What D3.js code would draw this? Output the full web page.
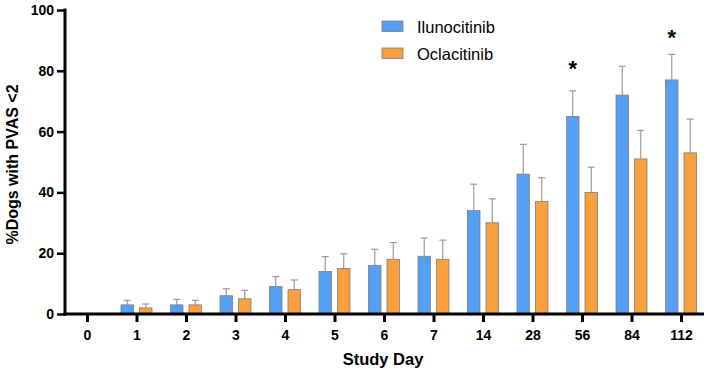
<!DOCTYPE html>
<html>
<head>
<meta charset="utf-8">
<script src="https://cdn.jsdelivr.net/npm/d3@7"></script>
<style>
  body { margin: 0; background: #fff; }
  svg { display: block; font-family: "Liberation Sans", Arial, sans-serif; }
</style>
</head>
<body>
<div id="chart"></div>
<script>
// data
const days = ["0", "1", "2", "3", "4", "5", "6", "7", "14", "28", "56", "84", "112"];
const ilunocitinib = [0, 3, 3, 6, 9, 14, 16, 19, 34, 46, 65, 72, 77];
const ilunocitinibUpper = [0, 4.5, 4.8, 8.3, 12.3, 18.9, 21.3, 25, 42.7, 55.8, 73.4, 81.5, 85.4];
const oclacitinib = [0, 2, 3, 5, 8, 15, 18, 18, 30, 37, 40, 51, 53];
const oclacitinibUpper = [0, 3.3, 4.5, 7.8, 11.2, 19.8, 23.5, 24.3, 37.9, 44.8, 48.3, 60.4, 64.1];
const significantDays = ["56", "112"];
const significantLevel = [82.3, 92.4]; // where the * sits, in % units
const yTicks = [0, 20, 40, 60, 80, 100];
const seriesNames = ["Ilunocitinib", "Oclacitinib"];
const colors = ["#559ff4", "#fba03e"];

const width = 709, height = 373;
const svg = d3.select("#chart").append("svg")
    .attr("width", width)
    .attr("height", height);

const x = d3.scalePoint().domain(days).range([87, 681]);
const y = d3.scaleLinear().domain([0, 100]).range([314, 10]);
const barW = 12.5;
const offset = 9.25;

const series = [
    {name: seriesNames[0], vals: ilunocitinib, upper: ilunocitinibUpper, dx: -offset, color: colors[0]},
    {name: seriesNames[1], vals: oclacitinib, upper: oclacitinibUpper, dx: offset, color: colors[1]}
];

// error bars (drawn first, bars cover the lower part)
series.forEach(s => {
    days.forEach((d, i) => {
        if (s.vals[i] === 0) return;
        const cx = x(d) + s.dx;
        svg.append("line")
            .attr("x1", cx).attr("x2", cx)
            .attr("y1", y(s.vals[i])).attr("y2", y(s.upper[i]))
            .attr("stroke", "#9a9a9a").attr("stroke-width", 1.2);
        svg.append("line")
            .attr("x1", cx - 3.5).attr("x2", cx + 3.5)
            .attr("y1", y(s.upper[i])).attr("y2", y(s.upper[i]))
            .attr("stroke", "#9a9a9a").attr("stroke-width", 1.2);
    });
});

// bars
series.forEach(s => {
    svg.selectAll(null)
        .data(days.map((d, i) => ({d, v: s.vals[i]})).filter(e => e.v > 0))
        .enter().append("rect")
        .attr("x", e => x(e.d) + s.dx - barW / 2)
        .attr("y", e => y(e.v))
        .attr("width", barW)
        .attr("height", e => y(0) - y(e.v))
        .attr("fill", s.color)
        .attr("stroke", "#7d7d7d")
        .attr("stroke-width", 0.8);
});

// significance stars (glyph centre ~12px above baseline)
significantDays.forEach((d, i) => {
    svg.append("text")
        .attr("x", x(d) - offset)
        .attr("y", y(significantLevel[i]) + 12)
        .attr("text-anchor", "middle")
        .attr("font-size", 22)
        .attr("font-weight", "bold")
        .text("*");
});

// y axis
const yAxis = svg.append("g")
    .attr("transform", "translate(65,0)")
    .call(d3.axisLeft(y).tickValues(yTicks).tickSize(8).tickPadding(3));
yAxis.select(".domain").remove();
yAxis.selectAll(".tick line").attr("stroke", "#000").attr("stroke-width", 2.5);
yAxis.selectAll(".tick text")
    .attr("font-size", 14).attr("font-weight", "bold")
    .attr("font-family", "Liberation Sans, Arial, sans-serif")
    .attr("fill", "#000");
svg.append("line")
    .attr("x1", 65).attr("x2", 65).attr("y1", 8.5).attr("y2", 315.5)
    .attr("stroke", "#000").attr("stroke-width", 3);

// x axis
const xAxis = svg.append("g")
    .attr("transform", "translate(0,314)")
    .call(d3.axisBottom(x).tickSize(8).tickPadding(8));
xAxis.select(".domain").remove();
xAxis.selectAll(".tick line").attr("stroke", "#000").attr("stroke-width", 3);
xAxis.selectAll(".tick text")
    .attr("font-size", 14).attr("font-weight", "bold")
    .attr("font-family", "Liberation Sans, Arial, sans-serif")
    .attr("fill", "#000");
svg.append("line")
    .attr("x1", 63.5).attr("x2", 704).attr("y1", 314).attr("y2", 314)
    .attr("stroke", "#000").attr("stroke-width", 3);

// axis titles
svg.append("text")
    .attr("transform", "translate(18,164.5) rotate(-90)")
    .attr("text-anchor", "middle")
    .attr("font-size", 16)
    .attr("font-weight", "bold")
    .text("%Dogs with PVAS <2");

svg.append("text")
    .attr("x", 383)
    .attr("y", 365)
    .attr("text-anchor", "middle")
    .attr("font-size", 16.5)
    .attr("font-weight", "bold")
    .text("Study Day");

// legend
series.forEach((s, i) => {
    const ly = 21 + i * 27;
    svg.append("rect")
        .attr("x", 382).attr("y", ly)
        .attr("width", 21).attr("height", 10.5)
        .attr("fill", s.color)
        .attr("stroke", "#7d7d7d").attr("stroke-width", 0.8);
    svg.append("text")
        .attr("x", 417).attr("y", ly + 11.5)
        .attr("font-size", 16.5)
        .text(s.name);
});
</script>
</body>
</html>
